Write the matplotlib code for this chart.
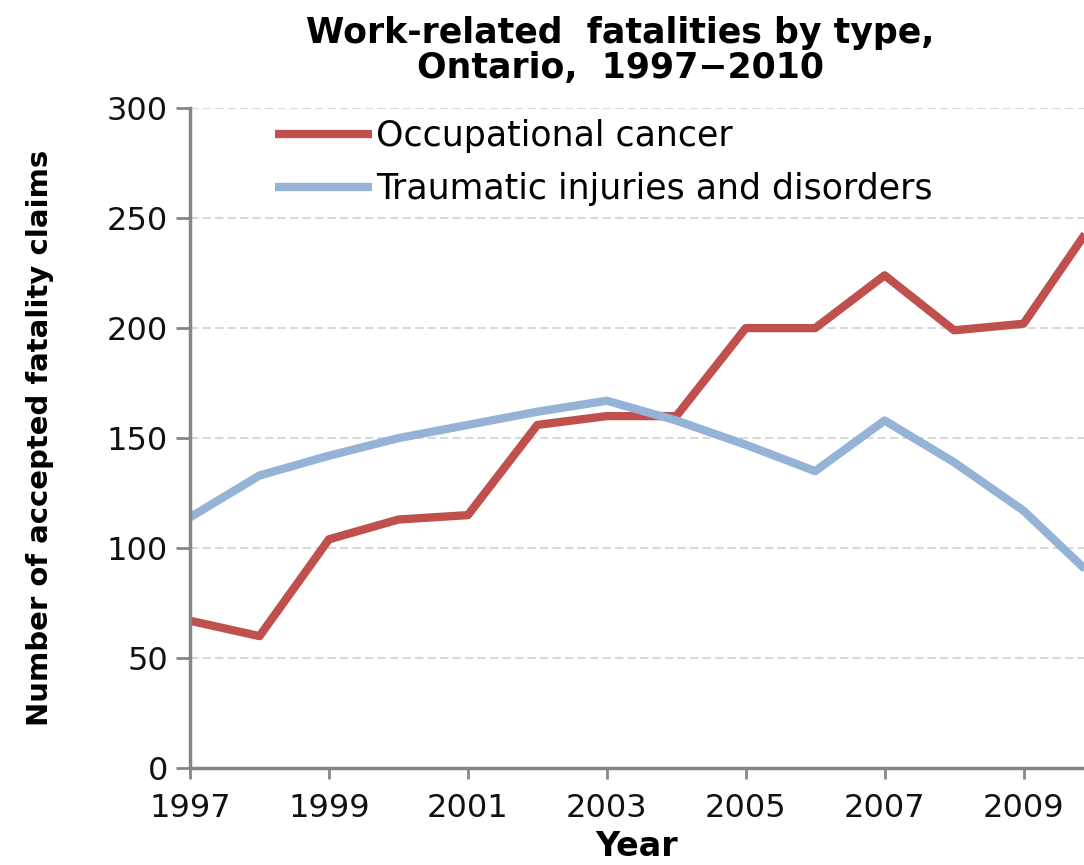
import matplotlib.pyplot as plt
import numpy as np

years = np.arange(1997, 2011)
cancer = [67, 60, 104, 113, 115, 156, 160, 160, 200, 200, 224, 199, 202, 248]
traumatic = [114, 133, 142, 150, 156, 162, 167, 158, 147, 135, 158, 139, 117, 87]

red = '#c0504d'
blue = '#95b3d7'
gray = '#868686'

fig = plt.figure(figsize=(10.84, 8.65), dpi=100)
ax = fig.add_axes([0.1753, 0.112, 0.8247, 0.763])

ax.plot(years, cancer, color=red, lw=6, label='Occupational cancer', solid_capstyle='butt')
ax.plot(years, traumatic, color=blue, lw=6, label='Traumatic injuries and disorders', solid_capstyle='butt')

ax.set_xlim(1997, 2009.87)
ax.set_ylim(0, 300)
ax.set_yticks(np.arange(0, 301, 50))
ax.set_xticks(np.arange(1997, 2010, 2))
ax.grid(axis='y', color='#d9d9d9', lw=1.5, ls=(0, (4, 2)))
ax.set_axisbelow(True)

for s in ['top', 'right']:
    ax.spines[s].set_visible(False)
for s in ['left', 'bottom']:
    ax.spines[s].set_color(gray)
    ax.spines[s].set_linewidth(2.5)

ax.tick_params(axis='both', colors=gray, width=2, labelcolor='#111111', labelsize=23)
ax.tick_params(axis='y', length=10, pad=6)
ax.tick_params(axis='x', length=8, pad=10)

ax.set_xlabel('Year', fontsize=24, fontweight='bold', labelpad=4)
ax.set_ylabel('Number of accepted fatality claims', fontsize=21, fontweight='bold', labelpad=38)

fig.text(0.572, 0.982, 'Work-related  fatalities by type,\nOntario,  1997\u22122010', ha='center', va='top',
         fontsize=25, fontweight='bold', linespacing=1.05)

ax.legend(loc='upper left', bbox_to_anchor=(0.095, 0.984), frameon=False, fontsize=25,
          handlelength=2.8, handletextpad=0.1, labelspacing=0.55, borderpad=0, borderaxespad=0)

fig.savefig('out.png', dpi=100)
